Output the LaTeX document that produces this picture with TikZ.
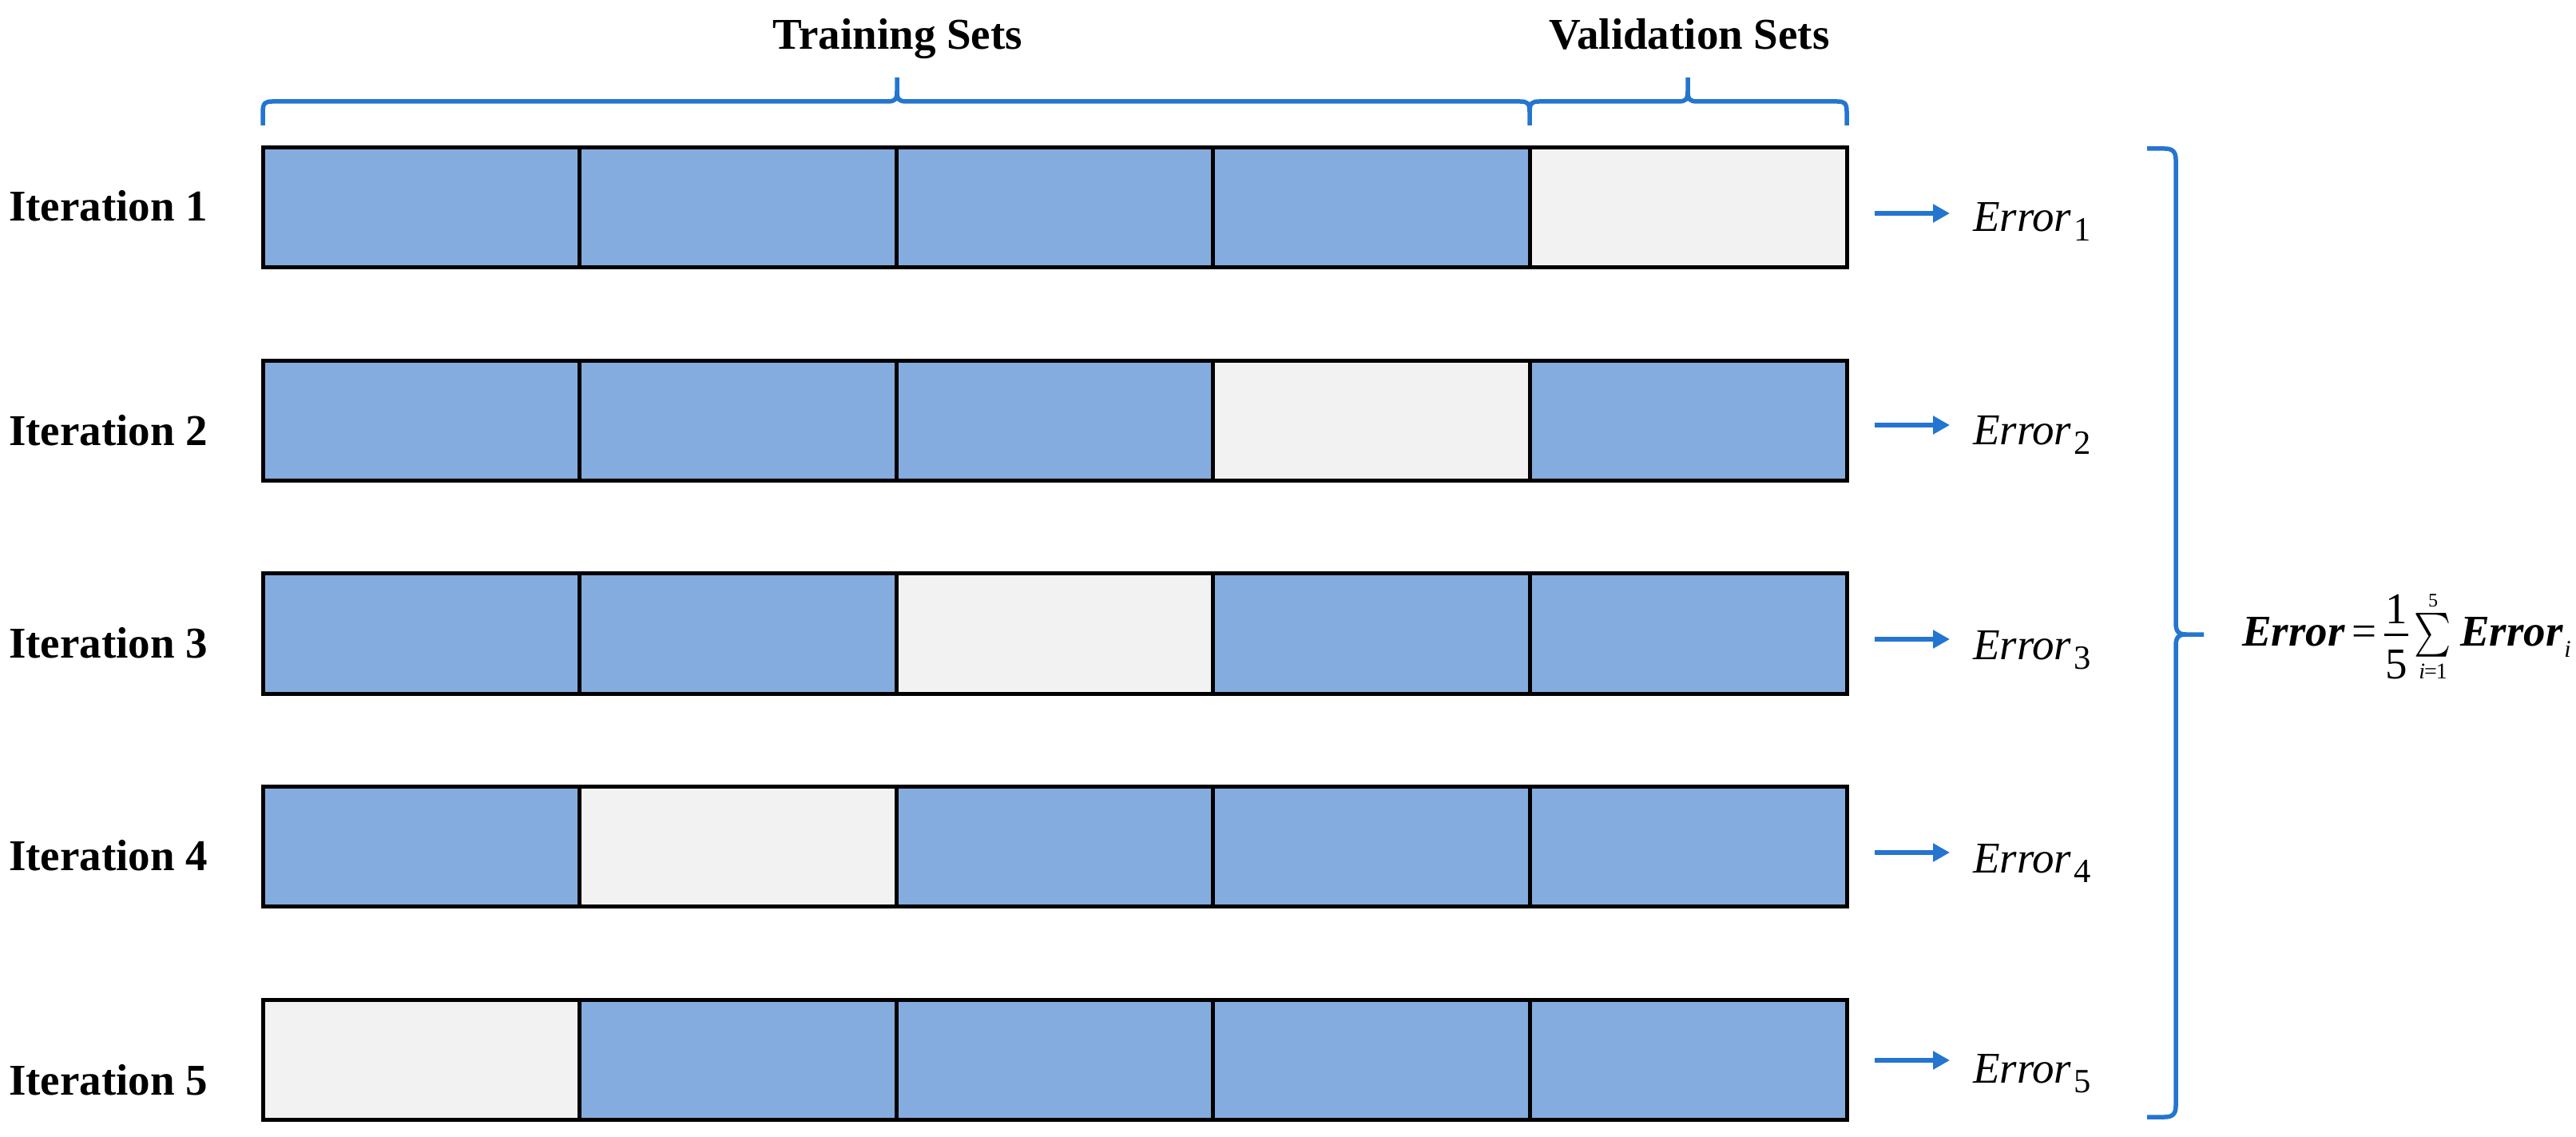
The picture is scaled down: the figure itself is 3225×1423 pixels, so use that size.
\documentclass[tikz,border=0pt]{standalone}
\usepackage{amsmath}
\usepackage{fontspec}
\setmainfont{Liberation Serif}
\usetikzlibrary{arrows.meta}
\definecolor{cellblue}{HTML}{84ACDF}
\definecolor{cellgrey}{HTML}{F2F2F2}
\definecolor{braceblue}{HTML}{2475D0}
\begin{document}
\begin{tikzpicture}[x=0.2pt,y=-0.2pt,
  cell/.style={draw=black,line width=1pt,minimum width=79.32pt,minimum height=30pt,inner sep=0pt,outer sep=0pt},
  itlab/.style={font=\fontsize{11}{13}\selectfont\bfseries,inner sep=0pt,anchor=base west},
  head/.style={font=\fontsize{11}{13}\selectfont\bfseries,inner sep=0pt,anchor=base},
  errlab/.style={font=\fontsize{11}{13}\selectfont,inner xsep=5.6pt,inner ysep=0pt,anchor=base west},
  ftxt/.style={font=\fontsize{11}{13}\selectfont,inner sep=0pt},
  arr/.style={draw=braceblue,line width=1.1pt,-{Triangle[length=4.2pt,width=4.4pt]}},
  brc/.style={draw=braceblue,line width=1.1pt}]
\useasboundingbox (0,0) rectangle (3225,1423);

% cells
\foreach \r/\v in {1/5,2/4,3/3,4/2,5/1}{
  \foreach \c in {1,...,5}{
    \ifnum\c=\v \def\fillc{cellgrey}\else\def\fillc{cellblue}\fi
    \node[cell,fill=\fillc] (c\r\c) at ({329+(\c-0.5)*396.6},{260+(\r-1)*266.5}) {};
  }
}

% iteration labels
\node[itlab] (it1) at (10,277) {Iteration 1};
\node[itlab] (it2) at (10,558) {Iteration 2};
\node[itlab] (it3) at (10,823) {Iteration 3};
\node[itlab] (it4) at (10,1089) {Iteration 4};
\node[itlab] (it5) at (10,1370) {Iteration 5};

% headers
\node[head] (train) at (1124,62) {Training Sets};
\node[head] (valid) at (2115,62) {Validation Sets};

% top braces
\draw[brc] (329,157) -- (329,140) .. controls (329,129) and (332,127) .. (341,127) -- (1111,127) .. controls (1120,127) and (1123,125) .. (1123,114) -- (1123,97);
\draw[brc] (1123,114) .. controls (1123,125) and (1126,127) .. (1135,127) -- (1903,127) .. controls (1912,127) and (1915,129) .. (1915,140) -- (1915,157);
\draw[brc] (1915,140) .. controls (1915,129) and (1918,127) .. (1927,127) -- (2101,127) .. controls (2110,127) and (2113,125) .. (2113,114) -- (2113,97);
\draw[brc] (2113,114) .. controls (2113,125) and (2116,127) .. (2125,127) -- (2300,127) .. controls (2309,127) and (2312,129) .. (2312,140) -- (2312,157);

% errors and arrows
\foreach \r/\ay/\by in {1/267/290,2/532/557,3/800/825,4/1067/1092,5/1327/1355}{
  \coordinate (a\r) at (2347,\ay);
  \node[errlab] (e\r) at (2441,\by) {\textit{Error}\kern0.6pt\raisebox{-2.4pt}{\fontsize{8.5}{9}\selectfont\r}};
  \draw[arr] (a\r) -- (e\r.west |- a\r);
}

% right brace
\draw[brc] (2688,186) -- (2710,186) .. controls (2720,186) and (2724,190) .. (2724,200) -- (2724,780) .. controls (2724,790) and (2727,794) .. (2737,794) -- (2759,794);
\draw[brc] (2688,1398) -- (2710,1398) .. controls (2720,1398) and (2724,1394) .. (2724,1384) -- (2724,808) .. controls (2724,798) and (2727,794) .. (2737,794);

% formula
\node[ftxt,anchor=base west] (f1) at (2806,808) {\bfseries\itshape Error};
\node[ftxt,anchor=base] (feq) at (2960,808) {=};
\node[ftxt,anchor=base] (fnum) at (3000,780) {1};
\draw[line width=0.6pt] (2985,794) -- (3015,794);
\node[ftxt,anchor=base] (fden) at (3000,850) {5};
\node[ftxt,anchor=center] (fsum) at (3046,795) {\scalebox{0.8}[1]{$\sum$}};
\node[ftxt,anchor=base,font=\fontsize{4.8}{5}\selectfont] (fup) at (3046,759) {5};
\node[ftxt,anchor=base,font=\fontsize{5.6}{6}\selectfont] (flo) at (3046,850) {\textit{i}\kern-0.2pt=\kern-0.2pt1};
\node[ftxt,anchor=base west] (f2) at (3079,808) {\bfseries\itshape Error};
\node[ftxt,anchor=base west,font=\fontsize{6}{7}\selectfont\itshape] (fi) at (f2.base east) {\raisebox{-2.8pt}{i}};
\end{tikzpicture}
\end{document}
